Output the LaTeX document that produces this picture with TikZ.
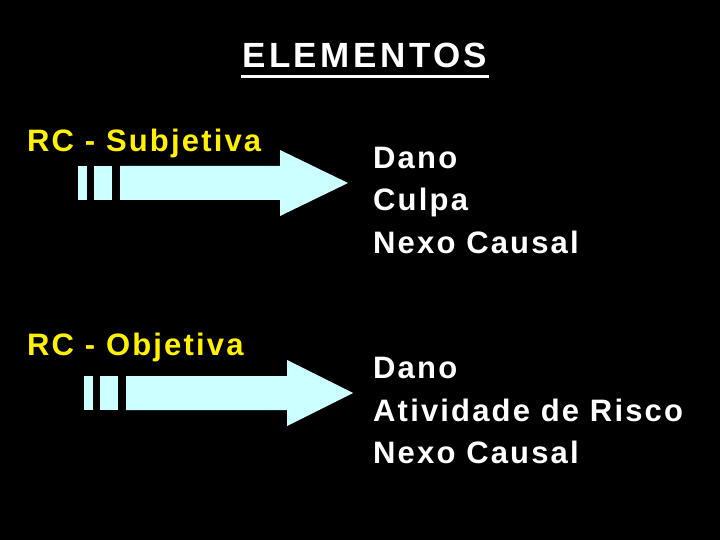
\documentclass[tikz,border=0pt]{standalone}
\usepackage{fontspec}
\setmainfont{Liberation Sans}[LetterSpace=7]
\newfontfamily\titlefont{Liberation Sans}[LetterSpace=10]
\definecolor{arrowcyan}{RGB}{204,255,255}
\tikzset{
  titletext/.style={anchor=base west, inner sep=0pt, text=white, font=\titlefont\fontsize{35}{42}\selectfont\bfseries},
  rclabel/.style={anchor=base west, inner sep=0pt, text=yellow, font=\fontsize{31}{36}\selectfont\bfseries},
  itemlabel/.style={anchor=base west, inner sep=0pt, text=white, font=\fontsize{31}{36}\selectfont\bfseries},
  bigarrow/.style={fill=arrowcyan, draw=none}
}
\begin{document}
\begin{tikzpicture}[x=1pt, y=-1pt]
    \fill[black] (0, 0) rectangle (720, 540);
    \useasboundingbox (0, 0) rectangle (720, 540);

    \node[titletext] (title) at (242, 68) {ELEMENTOS};
    \draw[white, line width=3pt] (241, 76.5)--(489, 76.5);

    % subjetiva
    \node[rclabel] (subj) at (27, 152) {RC - Subjetiva};
    \fill[bigarrow] (78, 166) rectangle (87, 200);
    \fill[bigarrow] (94, 166) rectangle (112, 200);
    \fill[bigarrow] (120, 166)--(280, 166)--(280, 150)--(348, 183)--(280, 216)--(280, 200)--(120, 200)--cycle;
    \node[itemlabel] (dano1) at (373, 169) {Dano};
    \node[itemlabel] (culpa) at (373, 211) {Culpa};
    \node[itemlabel] (nexo1) at (373, 253) {Nexo Causal};

    % objetiva
    \node[rclabel] (obj) at (27, 355) {RC - Objetiva};
    \fill[bigarrow] (84, 376) rectangle (93, 410);
    \fill[bigarrow] (100, 376) rectangle (118, 410);
    \fill[bigarrow] (126, 376)--(287, 376)--(287, 360)--(353, 393)--(287, 426)--(287, 410)--(126, 410)--cycle;
    \node[itemlabel] (dano2) at (373, 378) {Dano};
    \node[itemlabel] (risco) at (373, 421) {Atividade de Risco};
    \node[itemlabel] (nexo2) at (373, 463) {Nexo Causal};
\end{tikzpicture}
\end{document}
